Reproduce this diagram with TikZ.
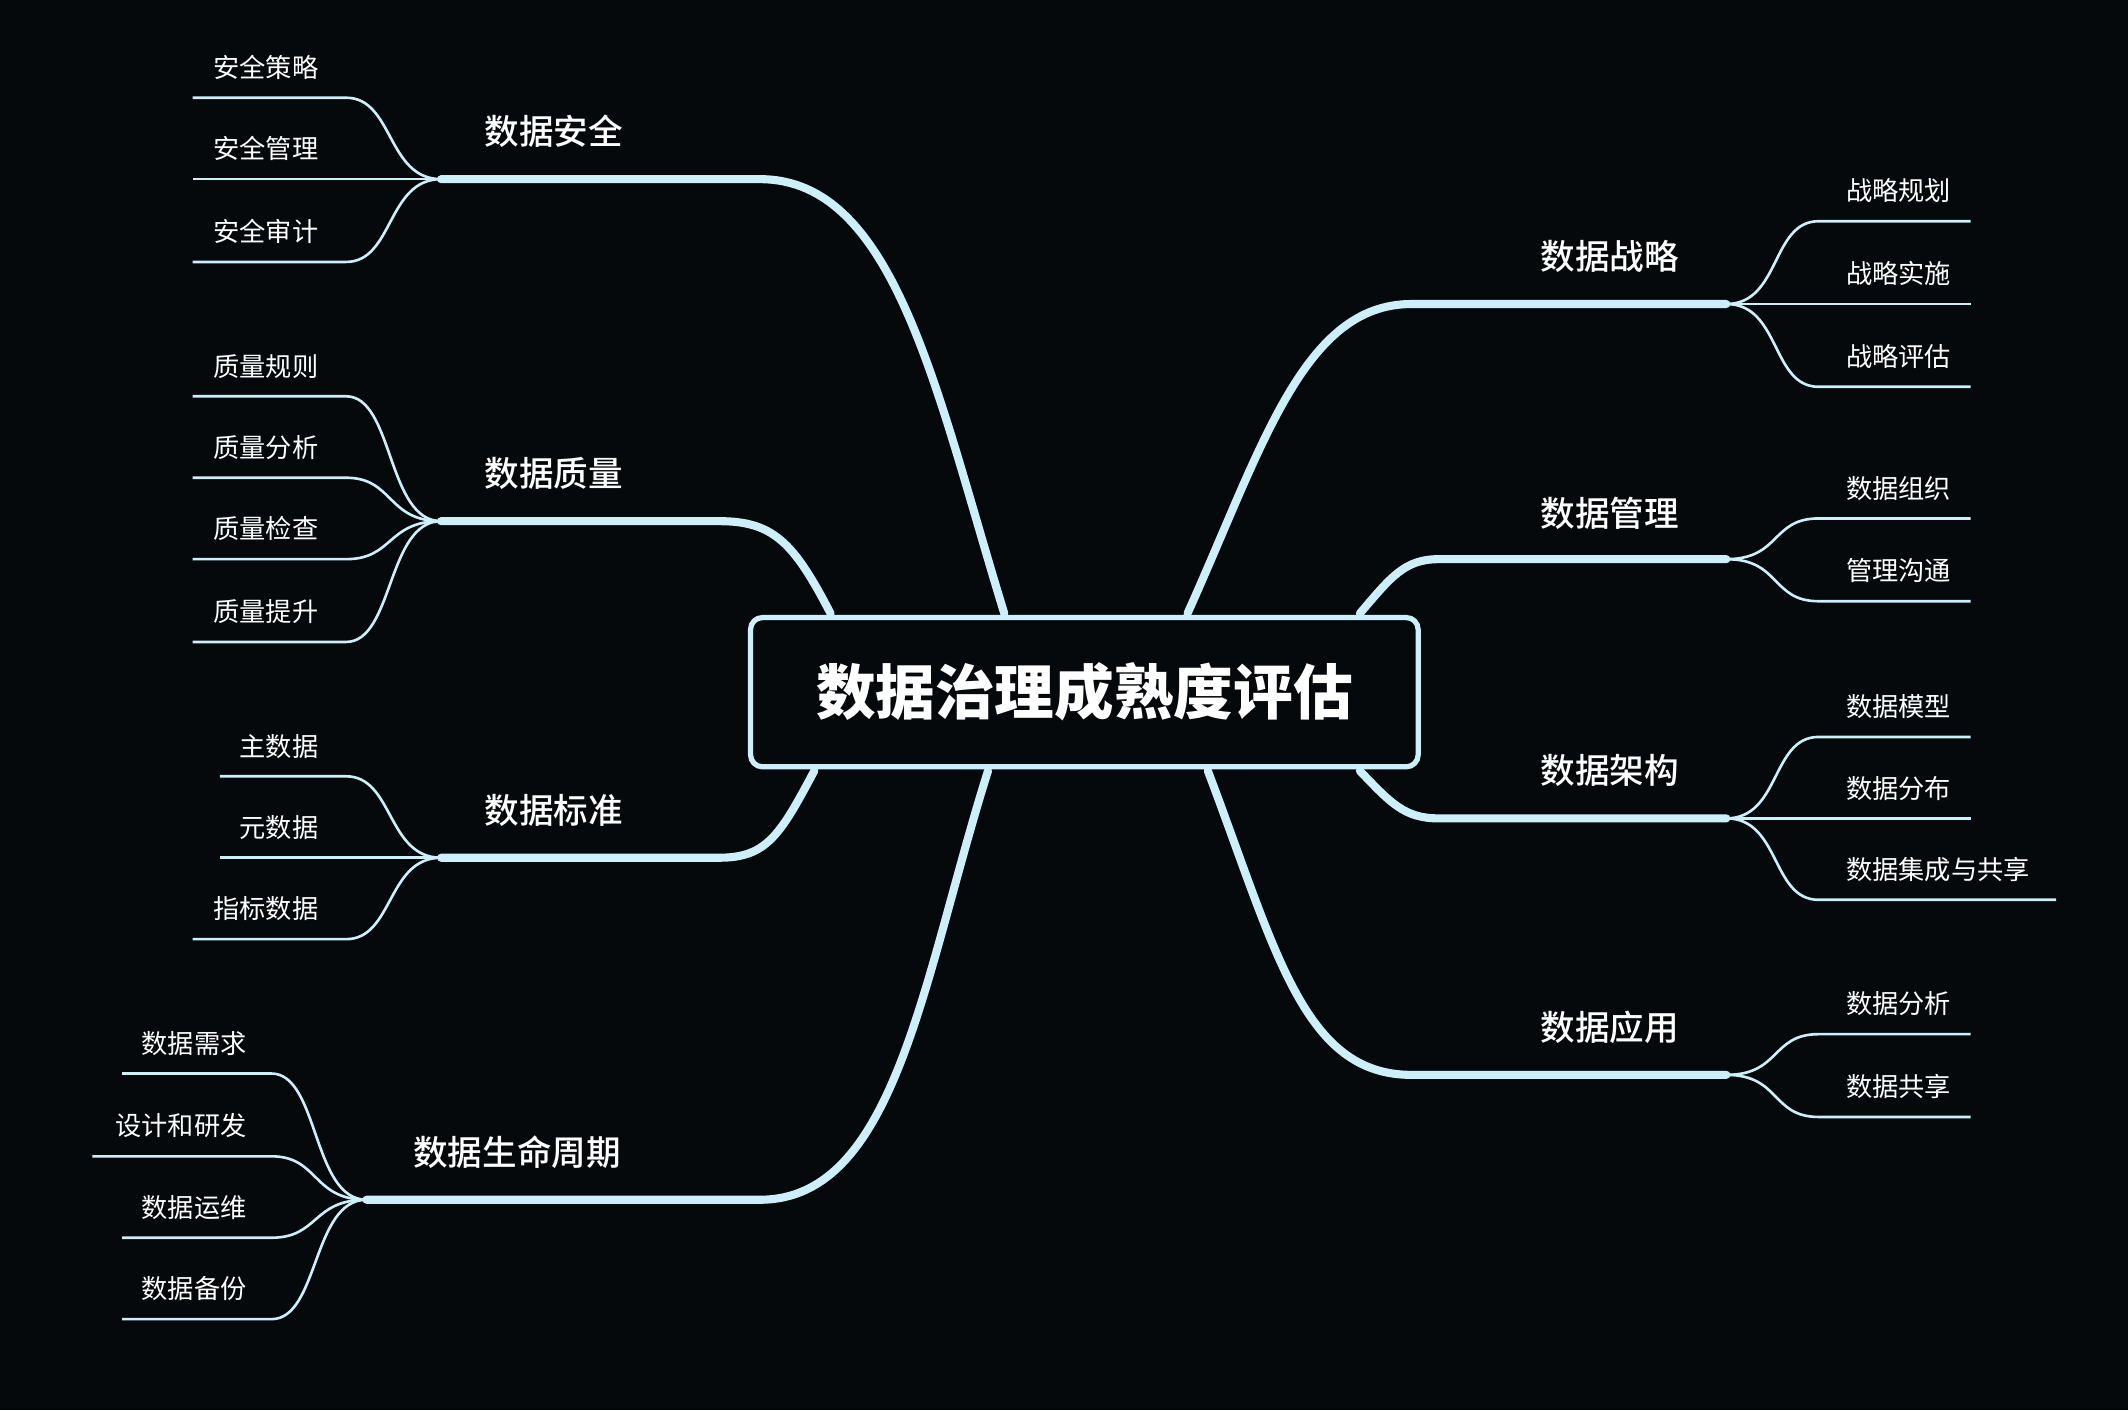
\documentclass[tikz,border=0pt]{standalone}
\usepackage{fontspec}
\setmainfont{Noto Sans CJK SC}
\definecolor{bgc}{HTML}{05090C}
\definecolor{linec}{HTML}{CDEFFA}
\tikzset{
  branch/.style={draw=linec,line width=3.4pt,line cap=round},
  twig/.style={draw=linec,line width=1.1pt},
  leafl/.style={text=white,font=\fontsize{11}{13}\selectfont,inner sep=0pt,anchor=south east},
  leafr/.style={text=white,font=\fontsize{11}{13}\selectfont,inner sep=0pt,anchor=south west},
  topic/.style={text=white,font=\fontsize{14.5}{16}\selectfont,inner sep=0pt},
  rootbox/.style={draw=linec,line width=2.2pt,rounded corners=5pt,fill=bgc,text=white,
    font=\bfseries\fontsize{25}{28}\selectfont,minimum width=9.84cm,minimum height=2.2cm}
}
\newfontfamily\topicfont{Noto Sans CJK SC Medium}
\begin{document}
\begin{tikzpicture}[x=0.02cm,y=-0.02cm]
\fill[bgc] (0,0) rectangle (1568,1039);
\useasboundingbox (0,0) rectangle (1568,1039);
% hubs
\coordinate (sec) at (325,132);
\coordinate (qua) at (325,384);
\coordinate (std) at (325,632);
\coordinate (life) at (270,884);
\coordinate (stra) at (1272,224);
\coordinate (mgmt) at (1272,412);
\coordinate (arch) at (1272,603);
\coordinate (app) at (1272,792);
% main branches
\draw[branch] (740,452) .. controls (690,290) and (660,132) .. (560,132) -- (sec);
\draw[branch] (612,452) .. controls (585,400) and (570,384) .. (530,384) -- (qua);
\draw[branch] (600,568) .. controls (575,615) and (565,632) .. (530,632) -- (std);
\draw[branch] (728,568) .. controls (680,720) and (660,884) .. (560,884) -- (life);
\draw[branch] (875,452) .. controls (930,330) and (960,224) .. (1040,224) -- (stra);
\draw[branch] (1002,452) .. controls (1025,425) and (1035,412) .. (1060,412) -- (mgmt);
\draw[branch] (1002,568) .. controls (1025,592) and (1035,603) .. (1060,603) -- (arch);
\draw[branch] (890,568) .. controls (940,700) and (960,792) .. (1040,792) -- (app);
\node[rootbox] (root) at (799,510) {数据治理成熟度评估};
% topics
\node[topic] (tsec) at (408,97) {\topicfont 数据安全};
\node[topic] (tqua) at (408,349) {\topicfont 数据质量};
\node[topic] (tstd) at (408,597) {\topicfont 数据标准};
\node[topic] (tlife) at (381,849) {\topicfont 数据生命周期};
\node[topic] (tstra) at (1186,189) {\topicfont 数据战略};
\node[topic] (tmgmt) at (1186,378) {\topicfont 数据管理};
\node[topic] (tarch) at (1186,568) {\topicfont 数据架构};
\node[topic] (tapp) at (1186,757) {\topicfont 数据应用};
% left leaves
\foreach \y/\xs/\t in {72/142/安全策略,132/142/安全管理,193/142/安全审计}
  {\draw[twig] (sec) .. controls (285,132) and (290,\y) .. (255,\y) -- (\xs,\y);
   \node[leafl] (s\y) at (235,\y-13) {\t};}
\foreach \y/\xs/\t in {292/142/质量规则,352/142/质量分析,412/142/质量检查,473/142/质量提升}
  {\draw[twig] (qua) .. controls (285,384) and (290,\y) .. (255,\y) -- (\xs,\y);
   \node[leafl] (q\y) at (235,\y-13) {\t};}
\foreach \y/\xs/\t in {572/162/主数据,632/162/元数据,692/142/指标数据}
  {\draw[twig] (std) .. controls (285,632) and (290,\y) .. (255,\y) -- (\xs,\y);
   \node[leafl] (d\y) at (235,\y-13) {\t};}
\foreach \y/\xs/\t in {791/90/数据需求,852/68/设计和研发,912/90/数据运维,972/90/数据备份}
  {\draw[twig] (life) .. controls (230,884) and (235,\y) .. (200,\y) -- (\xs,\y);
   \node[leafl] (l\y) at (182,\y-13) {\t};}
% right leaves
\foreach \y/\xe/\t in {163/1452/战略规划,224/1452/战略实施,285/1452/战略评估}
  {\draw[twig] (stra) .. controls (1312,224) and (1305,\y) .. (1340,\y) -- (\xe,\y);
   \node[leafr] (r\y) at (1360,\y-13) {\t};}
\foreach \y/\xe/\t in {382/1452/数据组织,443/1452/管理沟通}
  {\draw[twig] (mgmt) .. controls (1312,412) and (1305,\y) .. (1340,\y) -- (\xe,\y);
   \node[leafr] (m\y) at (1360,\y-13) {\t};}
\foreach \y/\xe/\t in {543/1452/数据模型,603/1452/数据分布,663/1515/数据集成与共享}
  {\draw[twig] (arch) .. controls (1312,603) and (1305,\y) .. (1340,\y) -- (\xe,\y);
   \node[leafr] (a\y) at (1360,\y-13) {\t};}
\foreach \y/\xe/\t in {762/1452/数据分析,823/1452/数据共享}
  {\draw[twig] (app) .. controls (1312,792) and (1305,\y) .. (1340,\y) -- (\xe,\y);
   \node[leafr] (p\y) at (1360,\y-13) {\t};}
\end{tikzpicture}
\end{document}
